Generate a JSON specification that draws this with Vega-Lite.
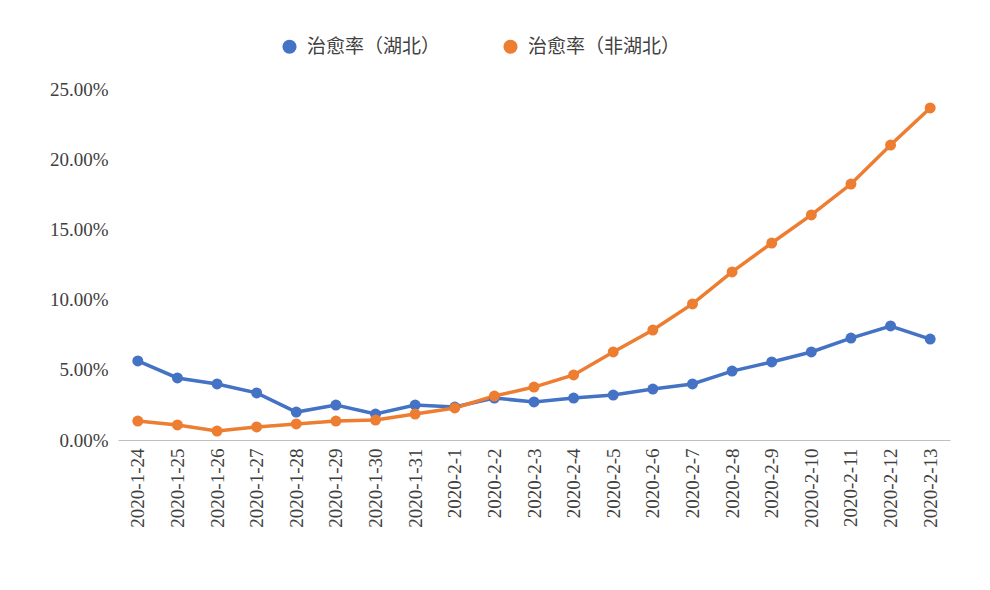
{
  "$schema": "https://vega.github.io/schema/vega-lite/v6.json",
  "width": 832,
  "height": 351,
  "autosize": "none",
  "padding": {"left": 118, "top": 89, "right": 40, "bottom": 150},
  "background": "white",
  "data": {
    "values": [
      {"date": "2020-1-24", "s": "治愈率（湖北）", "v": 0.0563},
      {"date": "2020-1-25", "s": "治愈率（湖北）", "v": 0.0442},
      {"date": "2020-1-26", "s": "治愈率（湖北）", "v": 0.0399},
      {"date": "2020-1-27", "s": "治愈率（湖北）", "v": 0.0335},
      {"date": "2020-1-28", "s": "治愈率（湖北）", "v": 0.0199},
      {"date": "2020-1-29", "s": "治愈率（湖北）", "v": 0.0249},
      {"date": "2020-1-30", "s": "治愈率（湖北）", "v": 0.0185},
      {"date": "2020-1-31", "s": "治愈率（湖北）", "v": 0.0249},
      {"date": "2020-2-1", "s": "治愈率（湖北）", "v": 0.0235},
      {"date": "2020-2-2", "s": "治愈率（湖北）", "v": 0.0299},
      {"date": "2020-2-3", "s": "治愈率（湖北）", "v": 0.0271},
      {"date": "2020-2-4", "s": "治愈率（湖北）", "v": 0.0299},
      {"date": "2020-2-5", "s": "治愈率（湖北）", "v": 0.032},
      {"date": "2020-2-6", "s": "治愈率（湖北）", "v": 0.0363},
      {"date": "2020-2-7", "s": "治愈率（湖北）", "v": 0.0399},
      {"date": "2020-2-8", "s": "治愈率（湖北）", "v": 0.0491},
      {"date": "2020-2-9", "s": "治愈率（湖北）", "v": 0.0556},
      {"date": "2020-2-10", "s": "治愈率（湖北）", "v": 0.0627},
      {"date": "2020-2-11", "s": "治愈率（湖北）", "v": 0.0726},
      {"date": "2020-2-12", "s": "治愈率（湖北）", "v": 0.0812},
      {"date": "2020-2-13", "s": "治愈率（湖北）", "v": 0.0719},
      {"date": "2020-1-24", "s": "治愈率（非湖北）", "v": 0.0135},
      {"date": "2020-1-25", "s": "治愈率（非湖北）", "v": 0.0107},
      {"date": "2020-1-26", "s": "治愈率（非湖北）", "v": 0.0064},
      {"date": "2020-1-27", "s": "治愈率（非湖北）", "v": 0.0093},
      {"date": "2020-1-28", "s": "治愈率（非湖北）", "v": 0.0114},
      {"date": "2020-1-29", "s": "治愈率（非湖北）", "v": 0.0135},
      {"date": "2020-1-30", "s": "治愈率（非湖北）", "v": 0.0142},
      {"date": "2020-1-31", "s": "治愈率（非湖北）", "v": 0.0185},
      {"date": "2020-2-1", "s": "治愈率（非湖北）", "v": 0.0228},
      {"date": "2020-2-2", "s": "治愈率（非湖北）", "v": 0.0313},
      {"date": "2020-2-3", "s": "治愈率（非湖北）", "v": 0.0377},
      {"date": "2020-2-4", "s": "治愈率（非湖北）", "v": 0.0463},
      {"date": "2020-2-5", "s": "治愈率（非湖北）", "v": 0.0627},
      {"date": "2020-2-6", "s": "治愈率（非湖北）", "v": 0.0783},
      {"date": "2020-2-7", "s": "治愈率（非湖北）", "v": 0.0969},
      {"date": "2020-2-8", "s": "治愈率（非湖北）", "v": 0.1197},
      {"date": "2020-2-9", "s": "治愈率（非湖北）", "v": 0.1403},
      {"date": "2020-2-10", "s": "治愈率（非湖北）", "v": 0.1603},
      {"date": "2020-2-11", "s": "治愈率（非湖北）", "v": 0.1823},
      {"date": "2020-2-12", "s": "治愈率（非湖北）", "v": 0.2101},
      {"date": "2020-2-13", "s": "治愈率（非湖北）", "v": 0.2365}
    ]
  },
  "mark": {"type": "line", "strokeWidth": 3.5, "point": {"filled": true, "size": 120, "opacity": 1}},
  "encoding": {
    "x": {
      "field": "date", "type": "ordinal", "sort": null, "title": null,
      "scale": {"type": "point", "padding": 0.5},
      "axis": {"labelAngle": -90, "labelFont": "Liberation Serif", "labelFontSize": 19, "labelColor": "#404040", "domainColor": "#bfbfbf", "ticks": false, "labelPadding": 8, "grid": false}
    },
    "y": {
      "field": "v", "type": "quantitative", "title": null,
      "scale": {"domain": [0, 0.25]},
      "axis": {"format": ".2%", "values": [0, 0.05, 0.1, 0.15, 0.2, 0.25], "labelFont": "Liberation Serif", "labelFontSize": 19, "labelColor": "#404040", "domain": false, "ticks": false, "grid": false, "labelPadding": 10}
    },
    "color": {
      "field": "s", "type": "nominal", "title": null,
      "scale": {"domain": ["治愈率（湖北）", "治愈率（非湖北）"], "range": ["#4472C4", "#ED7D31"]},
      "legend": {"orient": "none", "direction": "horizontal", "legendX": 162, "legendY": -52, "labelFont": "Noto Sans CJK SC", "labelFontSize": 19, "labelColor": "#404040", "symbolType": "circle", "symbolSize": 160, "symbolOffset": 0, "labelOffset": 8, "columnPadding": 60, "labelLimit": 300}
    }
  },
  "config": {"view": {"stroke": null}}
}
